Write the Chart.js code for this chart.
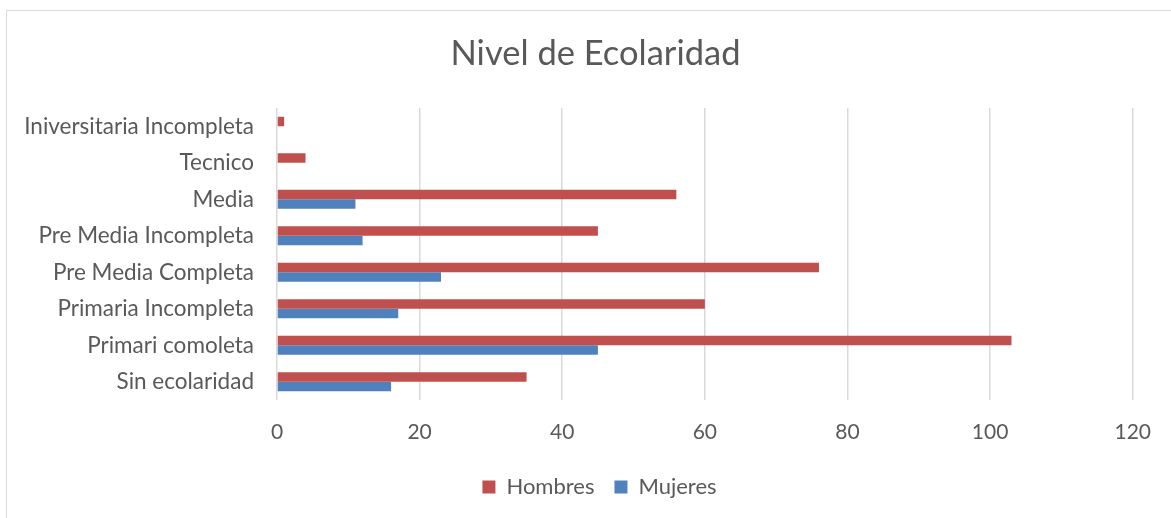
<!DOCTYPE html>
<html>
<head>
<meta charset="utf-8">
<script src="https://cdn.jsdelivr.net/npm/chart.js@4/dist/chart.umd.min.js"></script>
<style>
  html, body { margin:0; padding:0; background:#fff; }
  #wrap { position:relative; width:1171px; height:518px; overflow:hidden; }
  #frame { position:absolute; left:6px; top:10px; width:1200px; height:600px; border:1px solid #d9d9d9; }
  canvas { position:absolute; left:0; top:0; }
</style>
</head>
<body>
<div id="wrap">
  <div id="frame"></div>
  <canvas id="bar-chart" width="1171" height="518"></canvas>
</div>
<script>
// categorias (de arriba hacia abajo)
const niveles = ["Iniversitaria Incompleta", "Tecnico", "Media", "Pre Media Incompleta",
  "Pre Media Completa", "Primaria Incompleta", "Primari comoleta", "Sin ecolaridad"];
// valores
const hombres = [1, 4, 56, 45, 76, 60, 103, 35];
const mujeres = [0, 0, 11, 12, 23, 17, 45, 16];
// eje x
const ejeMin = 0, ejeMax = 120, ejePaso = 20;

const fuente = "Lato, 'Open Sans', sans-serif";
const gris = "#595959";

// el original tiene titulo y leyenda un poco corridos a la derecha
const mover = {
  id: 'mover',
  afterLayout: function(chart) {
    chart.legend.left += 28;
    chart.legend.right += 28;
    chart.legend.top -= 3;
    chart.legend.bottom -= 3;
    chart.titleBlock.left += 24;
    chart.titleBlock.right += 24;
  }
};

new Chart(document.getElementById("bar-chart"), {
  type: 'bar',
  data: {
    labels: niveles,
    datasets: [{
        label: "Hombres",
        data: hombres,
        backgroundColor: "#C0504D",
        barPercentage: 1,
        categoryPercentage: 0.52
      }, {
        label: "Mujeres",
        data: mujeres,
        backgroundColor: "#4F81BD",
        barPercentage: 1,
        categoryPercentage: 0.52
      }
    ]
  },
  plugins: [mover],
  options: {
    indexAxis: 'y',
    responsive: false,
    animation: false,
    layout: { padding: { left: 6, top: 10, right: 34, bottom: 7 } },
    plugins: {
      title: {
        display: true,
        text: 'Nivel de Ecolaridad',
        color: gris,
        font: { family: fuente, size: 34.5, weight: 'normal' },
        padding: { top: 23.3, bottom: 33.3 }
      },
      legend: {
        position: 'bottom',
        labels: {
          color: gris,
          font: { family: fuente, size: 22 },
          boxWidth: 13,
          boxHeight: 13,
          padding: 20
        }
      },
      tooltip: { enabled: false }
    },
    scales: {
      x: {
        min: ejeMin,
        max: ejeMax,
        ticks: { stepSize: ejePaso, color: gris, font: { family: fuente, size: 21 }, padding: 20 },
        grid: { color: "#d9d9d9", lineWidth: 1.5, drawTicks: false },
        border: { display: false },
        afterFit: function(scale) { scale.height = 59; }
      },
      y: {
        ticks: { color: gris, font: { family: fuente, size: 22.5 }, padding: 23 },
        grid: { display: false, drawTicks: false },
        border: { display: false },
        afterFit: function(scale) { scale.width = 271; }
      }
    }
  }
});
</script>
</body>
</html>
